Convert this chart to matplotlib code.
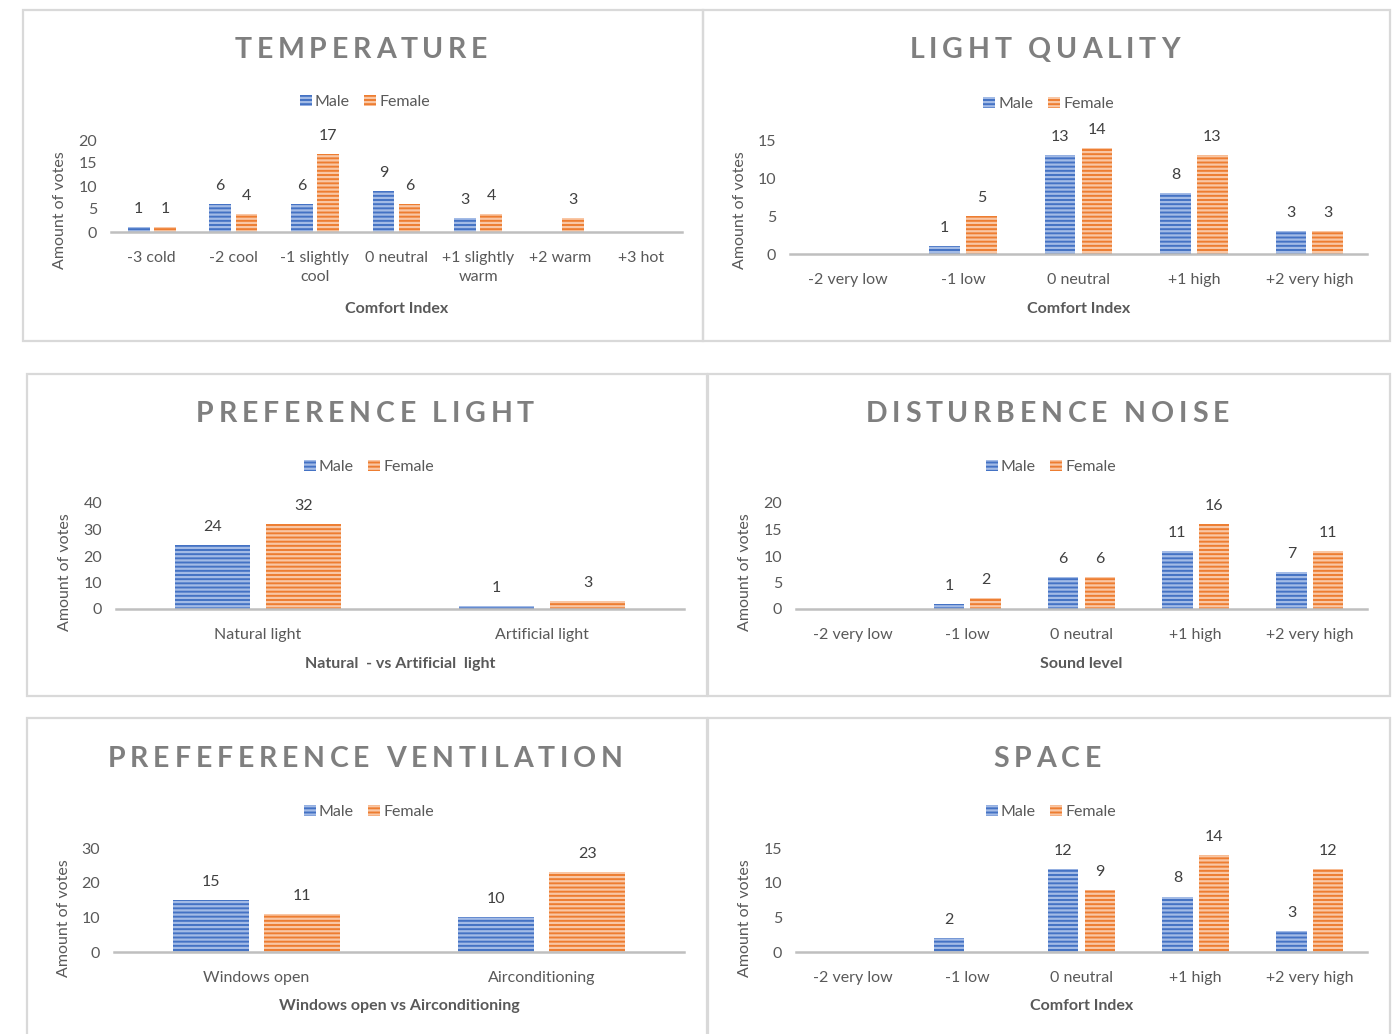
import matplotlib
matplotlib.use("Agg")
import matplotlib.pyplot as plt
from matplotlib.patches import Rectangle, Patch
from matplotlib.font_manager import FontProperties

plt.rcParams["font.family"] = ["Lato", "DejaVu Sans"]
plt.rcParams["hatch.linewidth"] = 1.6

# ---------------------------------------------------------------- data
temp_cats = ["-3 cold", "-2 cool", "-1 slightly\ncool", "0 neutral",
             "+1 slightly\nwarm", "+2 warm", "+3 hot"]
temp_male = [1, 6, 6, 9, 3, None, None]
temp_female = [1, 4, 17, 6, 4, 3, None]

light_cats = ["-2 very low", "-1 low", "0 neutral", "+1 high", "+2 very high"]
light_male = [None, 1, 13, 8, 3]
light_female = [None, 5, 14, 13, 3]

pref_light_cats = ["Natural light", "Artificial light"]
pref_light_male = [24, 1]
pref_light_female = [32, 3]

noise_cats = ["-2 very low", "-1 low", "0 neutral", "+1 high", "+2 very high"]
noise_male = [None, 1, 6, 11, 7]
noise_female = [None, 2, 6, 16, 11]

vent_cats = ["Windows open", "Airconditioning"]
vent_male = [15, 10]
vent_female = [11, 23]

space_cats = ["-2 very low", "-1 low", "0 neutral", "+1 high", "+2 very high"]
space_male = [None, 2, 12, 8, 3]
space_female = [None, None, 9, 14, 12]

# ---------------------------------------------------------------- style
BLUE, BLUE_LT = "#4472C4", "#A3BBE6"
ORANGE, ORANGE_LT = "#ED7D31", "#F9C7A5"
TEXT = "#595959"
TITLE = "#7F7F7F"
AXIS = "#BFBFBF"
BORDER = "#D9D9D9"
FS = 11.5

W, H = 1400, 1034
fig = plt.figure(figsize=(W / 100, H / 100), dpi=100)


def fx(px):
    return px / W


def fy(py):
    return 1 - py / H


panels = [
    dict(title="TEMPERATURE", cats=temp_cats, male=temp_male, female=temp_female,
         ymax=20, step=5, ax=(111, 682, 232, 140), box=(23, 10, 703, 341),
         ty=50, ly=102, ylx=60, yly=210, xlabel="Comfort Index", xly=309),
    dict(title="LIGHT QUALITY", cats=light_cats, male=light_male, female=light_female,
         ymax=15, step=5, ax=(790, 1367, 254, 140), box=(703, 10, 1390, 341),
         ty=50, ly=104, ylx=740, yly=210, xlabel="Comfort Index", xly=309),
    dict(title="PREFERENCE LIGHT", cats=pref_light_cats, male=pref_light_male,
         female=pref_light_female,
         ymax=40, step=10, ax=(116, 684, 609, 503), box=(27, 374, 707, 696),
         ty=414, ly=467, ylx=65, yly=572, xlabel="Natural  - vs Artificial  light", xly=664),
    dict(title="DISTURBENCE NOISE", cats=noise_cats, male=noise_male, female=noise_female,
         ymax=20, step=5, ax=(796, 1367, 609, 503), box=(708, 374, 1390, 696),
         ty=414, ly=467, ylx=745, yly=572, xlabel="Sound level", xly=664),
    dict(title="PREFEFERENCE VENTILATION", cats=vent_cats, male=vent_male, female=vent_female,
         ymax=30, step=10, ax=(114, 684, 952, 848), box=(27, 718, 707, 1040),
         ty=759, ly=812, ylx=64, yly=918, xlabel="Windows open vs Airconditioning", xly=1006),
    dict(title="SPACE", cats=space_cats, male=space_male, female=space_female,
         ymax=15, step=5, ax=(796, 1367, 952, 848), box=(708, 718, 1390, 1040),
         ty=759, ly=812, ylx=745, yly=918, xlabel="Comfort Index", xly=1006),
]

renderer = fig.canvas.get_renderer()


def spaced_title(text, xc, y, size, spacing):
    """Draw text with extra letter spacing, centred on xc (pixels)."""
    fp = FontProperties(family=["Lato", "DejaVu Sans"], weight="bold", size=size)
    widths = [renderer.get_text_width_height_descent(ch, fp, ismath=False)[0]
              for ch in text]
    total = sum(widths) + spacing * (len(text) - 1)
    x = xc - total / 2
    for ch, w in zip(text, widths):
        fig.text(fx(x), fy(y), ch, fontproperties=fp, color=TITLE,
                 ha="left", va="center")
        x += w + spacing


WIDTH, OFF = 0.265, 0.16

for p in panels:
    x0, x1, yb, yt = p["ax"]
    ax = fig.add_axes([fx(x0), fy(yb), fx(x1 - x0), (yb - yt) / H])
    n = len(p["cats"])
    for series, col, lt, sign in ((p["male"], BLUE, BLUE_LT, -1),
                                  (p["female"], ORANGE, ORANGE_LT, 1)):
        for i, v in enumerate(series):
            if v is None:
                continue
            ax.bar(i + sign * OFF, v, WIDTH, color=col, edgecolor=lt,
                   hatch="----", linewidth=0, zorder=2)
            ax.annotate(str(v), (i + sign * OFF, v), xytext=(0, 13),
                        textcoords="offset points", ha="center", va="center",
                        fontsize=FS, color="#404040")
    ax.set_xlim(-0.5, n - 0.5)
    ax.set_ylim(0, p["ymax"])
    ax.set_yticks(range(0, p["ymax"] + 1, p["step"]))
    ax.set_xticks(range(n))
    ax.set_xticklabels(p["cats"], linespacing=1.45)
    for s in ("top", "right", "left"):
        ax.spines[s].set_visible(False)
    ax.spines["bottom"].set_color(AXIS)
    ax.spines["bottom"].set_linewidth(1.8)
    ax.patch.set_alpha(0)
    ax.tick_params(axis="both", length=0, labelsize=FS, labelcolor=TEXT)
    ax.tick_params(axis="x", pad=13.5)
    ax.tick_params(axis="y", pad=10)

    bx0, by0, bx1, by1 = p["box"]
    fig.add_artist(Rectangle((fx(bx0), fy(by1)), fx(bx1 - bx0), (by1 - by0) / H,
                             transform=fig.transFigure, fill=False,
                             edgecolor=BORDER, linewidth=1.6))
    cx = (bx0 + bx1) / 2
    spaced_title(p["title"], cx - 2, p["ty"], 20.5, 4.8)

    handles = [Patch(facecolor=BLUE, edgecolor=BLUE_LT, hatch="----", linewidth=0),
               Patch(facecolor=ORANGE, edgecolor=ORANGE_LT, hatch="----", linewidth=0)]
    fig.legend(handles, ["Male", "Female"], loc="center",
               bbox_to_anchor=(fx(cx + 2), fy(p["ly"])), ncol=2, frameon=False,
               fontsize=FS, labelcolor=TEXT, handlelength=0.75, handleheight=0.75,
               handletextpad=0.2, columnspacing=0.9, borderpad=0)

    fig.text(fx(p["ylx"]), fy(p["yly"]), "Amount of votes", rotation=90,
             ha="center", va="center", fontsize=FS, color=TEXT)
    fig.text(fx((x0 + x1) / 2), fy(p["xly"]), p["xlabel"], ha="center",
             va="center", fontsize=FS, fontweight="bold", color=TEXT)

fig.savefig("out.png", dpi=100, facecolor="white")
